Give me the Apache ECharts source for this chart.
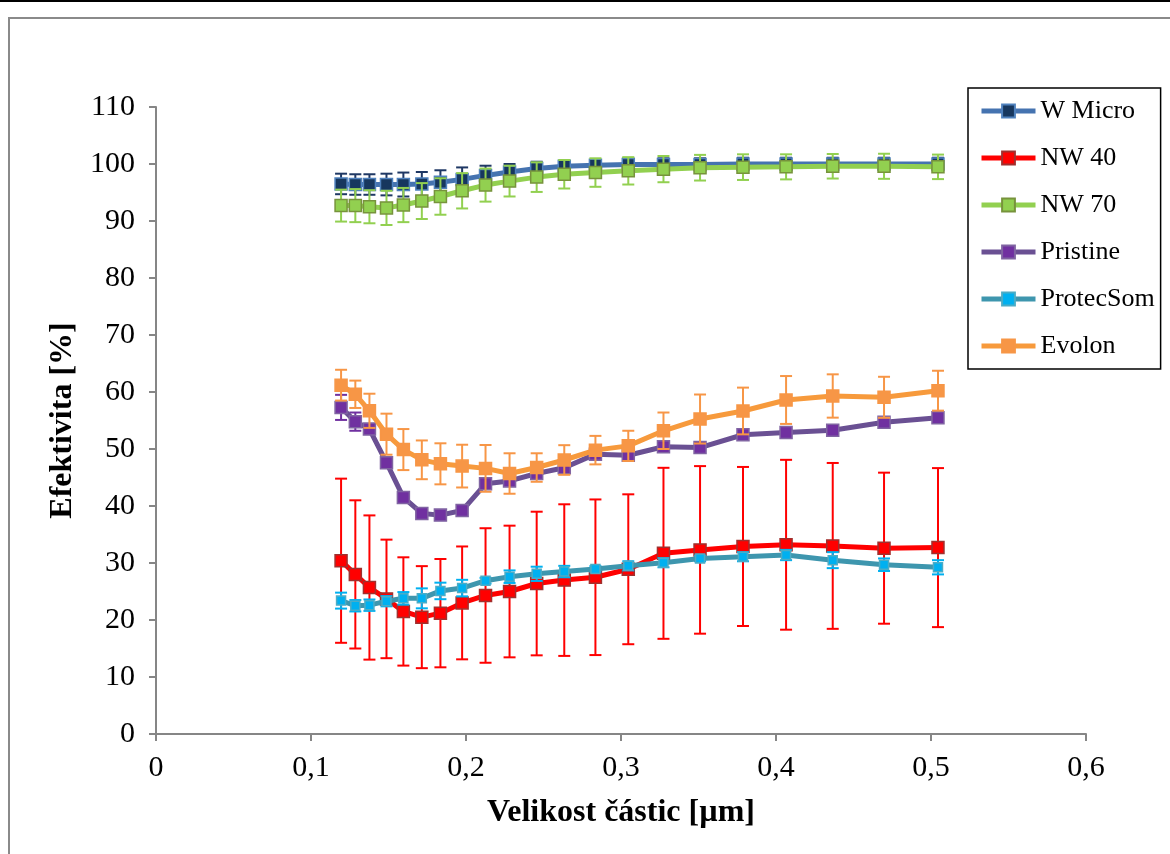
<!DOCTYPE html>
<html>
<head>
<meta charset="utf-8">
<script src="https://cdn.jsdelivr.net/npm/echarts@6/dist/echarts.min.js"></script>
<style>
html,body{margin:0;padding:0;background:#fff;}
#chart{width:1170px;height:854px;}
</style>
</head>
<body>
<div id="chart"></div>
<script>
// particle size (µm)
const sizes = [0.1194, 0.1286, 0.1377, 0.1487, 0.1596, 0.1715, 0.1835, 0.1975, 0.2126, 0.2281, 0.2456, 0.2634, 0.2835, 0.3047, 0.3274, 0.3510, 0.3787, 0.4065, 0.4366, 0.4697, 0.5045];

const seriesNames = ['W Micro', 'NW 40', 'NW 70', 'Pristine', 'ProtecSom', 'Evolon'];

const wMicro    = [96.5, 96.4, 96.4, 96.4, 96.4, 96.5, 96.8, 97.3, 98.0, 98.6, 99.2, 99.6, 99.8, 99.9, 99.9, 99.9, 100.0, 100.0, 100.0, 100.0, 100.0];
const wMicroErr = [1.8, 1.8, 1.8, 1.9, 2.1, 2.1, 2.1, 2.1, 1.7, 1.4, 1.2, 0.9, 0.9, 1.1, 1.1, 1.1, 1.1, 1.1, 1.1, 1.1, 1.1];

const nw40    = [30.4, 28.0, 25.7, 23.7, 21.5, 20.5, 21.2, 23.0, 24.3, 25.0, 26.4, 27.0, 27.5, 28.9, 31.7, 32.3, 32.9, 33.2, 33.0, 32.6, 32.7];
const nw40Err = [14.4, 13.0, 12.65, 10.4, 9.5, 8.95, 9.5, 9.9, 11.8, 11.55, 12.6, 13.3, 13.65, 13.15, 15.0, 14.7, 13.95, 14.9, 14.55, 13.25, 13.95];

const nw70    = [92.7, 92.7, 92.5, 92.3, 92.8, 93.5, 94.3, 95.3, 96.3, 97.0, 97.7, 98.2, 98.5, 98.8, 99.1, 99.35, 99.45, 99.5, 99.6, 99.6, 99.5];
const nw70Err = [2.8, 2.9, 2.9, 3.0, 3.0, 3.15, 3.2, 3.1, 2.9, 2.7, 2.6, 2.5, 2.5, 2.4, 2.3, 2.25, 2.25, 2.2, 2.15, 2.2, 2.15];

const pristine    = [57.3, 54.8, 53.5, 47.6, 41.5, 38.7, 38.4, 39.2, 43.9, 44.4, 45.7, 46.7, 49.1, 48.9, 50.4, 50.25, 52.5, 52.9, 53.3, 54.7, 55.5];
const pristineErr = [2.2, 1.6, 0.6, 0.5, 0.5, 0.5, 0.5, 0.5, 0.8, 0.7, 0.8, 0.9, 0.6, 0.6, 0.5, 0.5, 0.5, 0.5, 0.5, 0.5, 0.5];

const protecSom    = [23.4, 22.5, 22.6, 23.3, 23.8, 23.8, 25.1, 25.6, 26.9, 27.6, 28.1, 28.5, 28.95, 29.5, 30.05, 30.8, 31.1, 31.4, 30.5, 29.7, 29.25];
const protecSomErr = [1.4, 1.0, 1.0, 0.9, 1.1, 1.75, 1.45, 1.45, 0.5, 1.1, 1.25, 1.0, 0.5, 0.8, 0.8, 0.5, 0.8, 0.9, 1.4, 1.1, 1.25];

const evolon    = [61.2, 59.6, 56.7, 52.6, 49.9, 48.1, 47.4, 47.0, 46.6, 45.7, 46.75, 48.07, 49.8, 50.55, 53.2, 55.26, 56.67, 58.6, 59.3, 59.07, 60.23];
const evolonErr = [2.7, 2.4, 3.0, 3.6, 3.6, 3.4, 3.6, 3.75, 4.1, 3.55, 2.5, 2.6, 2.5, 2.65, 3.2, 4.3, 4.1, 4.2, 3.8, 3.6, 3.5];

const values = [wMicro, nw40, nw70, pristine, protecSom, evolon];
const errors = [wMicroErr, nw40Err, nw70Err, pristineErr, protecSomErr, evolonErr];

// styles
const lineColors   = ['#4573B0', '#FF0000', '#92D050', '#6A5093', '#3E96AE', '#F79A3C'];
const markerFill   = ['#17375E', '#FF0000', '#92D050', '#7030A0', '#00B0F0', '#F79646'];
const markerBorder = ['#4F81BD', '#A0302E', '#77933C', '#8064A2', '#4BACC6', '#F79646'];
const errColors    = ['#1F3864', '#FF0000', '#92D050', '#7030A0', '#00B0F0', '#F79646'];
const markerSizes  = [12, 12, 12, 12, 9, 12];

const FONT = "'Liberation Serif', 'Times New Roman', serif";

const series = [];
seriesNames.forEach((name, i) => {
  const errData = sizes.map((x, k) => [x, values[i][k] - errors[i][k], values[i][k] + errors[i][k]]);
  const col = errColors[i];
  series.push({
    name: name + ' err',
    type: 'custom',
    z: 2 + i * 2,
    silent: true,
    data: errData,
    encode: { x: 0, y: [1, 2] },
    renderItem: function (params, api) {
      const x = api.value(0), lo = api.value(1), hi = api.value(2);
      const pT = api.coord([x, hi]);
      const pB = api.coord([x, lo]);
      const w = 6;
      const st = { stroke: col, lineWidth: 2 };
      return {
        type: 'group',
        children: [
          { type: 'line', shape: { x1: pT[0], y1: pT[1], x2: pB[0], y2: pB[1] }, style: st },
          { type: 'line', shape: { x1: pT[0] - w, y1: pT[1], x2: pT[0] + w, y2: pT[1] }, style: st },
          { type: 'line', shape: { x1: pB[0] - w, y1: pB[1], x2: pB[0] + w, y2: pB[1] }, style: st }
        ]
      };
    }
  });
  series.push({
    name: name,
    type: 'line',
    z: 3 + i * 2,
    data: sizes.map((x, k) => [x, values[i][k]]),
    symbol: 'rect',
    symbolSize: markerSizes[i],
    showAllSymbol: true,
    lineStyle: { color: lineColors[i], width: 5 },
    itemStyle: { color: markerFill[i], borderColor: markerBorder[i], borderWidth: 1.5 },
    emphasis: { disabled: true },
    animation: false
  });
});

const chart = echarts.init(document.getElementById('chart'), null, { renderer: 'canvas' });
chart.setOption({
  animation: false,
  backgroundColor: '#ffffff',
  graphic: [
    { type: 'rect', left: 0, top: 0, shape: { x: 0, y: 0, width: 1170, height: 2 }, style: { fill: '#000' }, silent: true },
    { type: 'rect', shape: { x: 9, y: 18, width: 1200, height: 900 }, style: { fill: 'none', stroke: '#8a8a8a', lineWidth: 2 }, silent: true, z: -1 }
  ],
  grid: { left: 156, right: 84, top: 107, bottom: 120, containLabel: false, outerBoundsMode: 'none' },
  legend: {
    data: seriesNames,
    left: 968,
    top: 88,
    orient: 'vertical',
    padding: [10, 6, 10, 11],
    itemGap: 21,
    itemWidth: 54,
    itemHeight: 16,
    borderColor: '#000',
    borderWidth: 1.5,
    selectedMode: false,
    lineStyle: { width: 5 },
    textStyle: { fontFamily: FONT, fontSize: 26, color: '#000', lineHeight: 25 }
  },
  xAxis: {
    type: 'value',
    min: 0,
    max: 0.6,
    interval: 0.1,
    name: 'Velikost částic [µm]',
    nameLocation: 'middle',
    nameGap: 63,
    nameTextStyle: { fontFamily: FONT, fontSize: 32, fontWeight: 'bold', color: '#000' },
    axisLine: { lineStyle: { color: '#868686', width: 2 } },
    axisTick: { show: true, length: 7, lineStyle: { color: '#868686', width: 2 } },
    axisLabel: {
      margin: 19,
      fontFamily: FONT, fontSize: 30, color: '#000',
      formatter: v => (v === 0 ? '0' : v.toFixed(1).replace('.', ','))
    },
    splitLine: { show: false }
  },
  yAxis: {
    type: 'value',
    min: 0,
    max: 110,
    interval: 10,
    name: 'Efektivita [%]',
    nameLocation: 'middle',
    nameGap: 75,
    nameRotate: 90,
    nameTextStyle: { fontFamily: FONT, fontSize: 32, fontWeight: 'bold', color: '#000' },
    axisLine: { show: true, lineStyle: { color: '#868686', width: 2 } },
    axisTick: { show: true, length: 7, lineStyle: { color: '#868686', width: 2 } },
    axisLabel: { margin: 21, fontFamily: FONT, fontSize: 30, color: '#000' },
    splitLine: { show: false }
  },
  series: series
});
</script>
</body>
</html>
